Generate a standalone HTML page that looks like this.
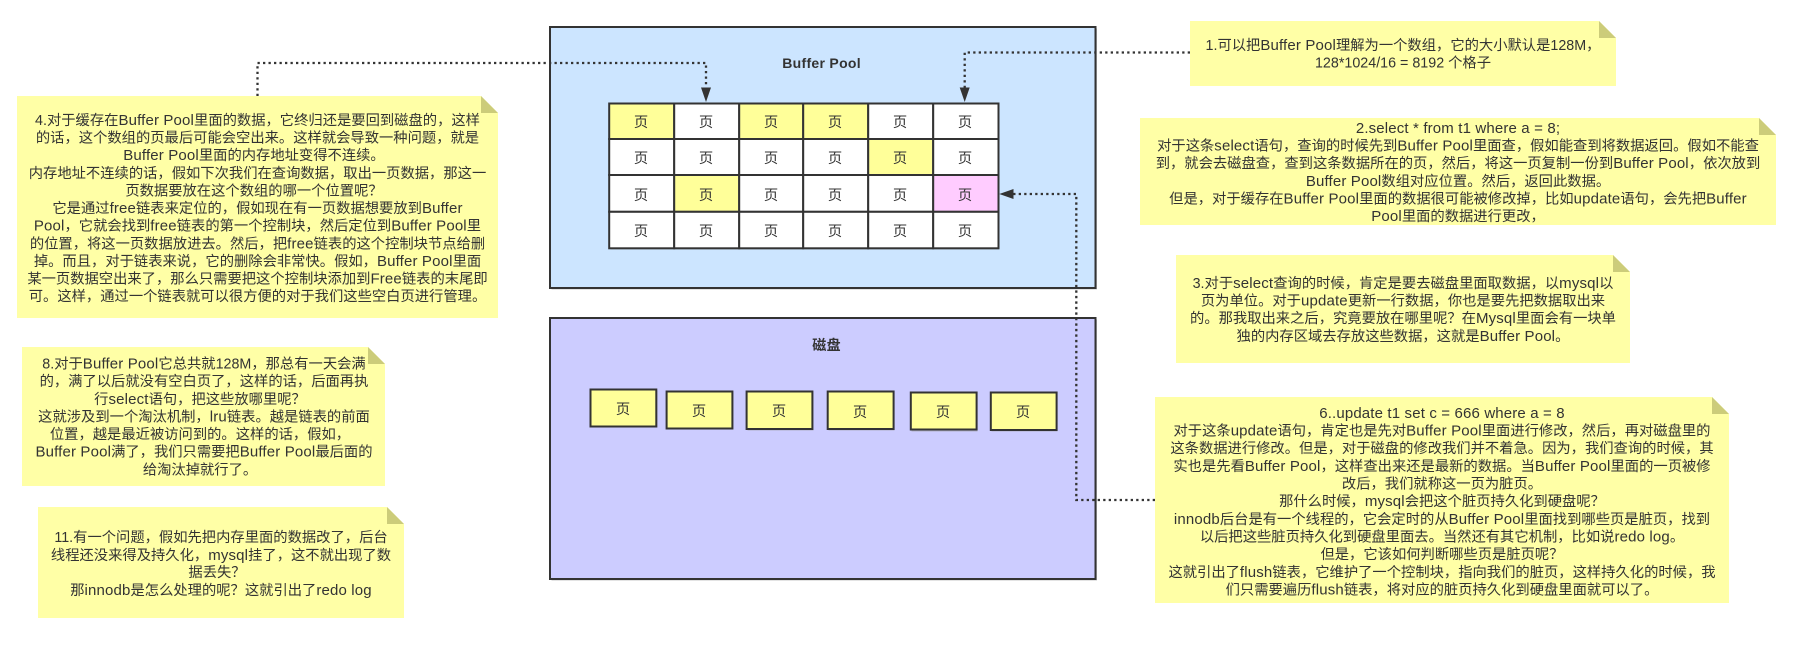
<!DOCTYPE html>
<html lang="zh"><head><meta charset="utf-8"><title>Buffer Pool</title>
<style>
html,body{margin:0;padding:0;background:#fff;width:1793px;height:657px;overflow:hidden}
svg{display:block}
text{font-family:"Liberation Sans","Noto Sans CJK SC",sans-serif;font-size:14.3px;fill:#333;text-anchor:middle;white-space:pre}
tspan.l{font-size:15px;letter-spacing:.15px}
.t{font-weight:bold;font-size:14px;letter-spacing:.3px}
.n{fill:#ffffa6}.f{fill:#cccc7a}
.c{stroke:#333;stroke-width:2;fill:#fff}
.y{fill:#ffff99}.p{fill:#ffccff}
.s{fill:#999;opacity:.55}
.d{fill:none;stroke:#333;stroke-width:2.3;stroke-dasharray:2.3 3.2}
</style></head><body>
<svg width="1793" height="657" viewBox="0 0 1793 657" xmlns="http://www.w3.org/2000/svg">
<!-- containers -->
<rect class="s" x="551.5" y="28.5" width="545.5" height="261"/>
<rect x="550" y="27" width="545.5" height="261" fill="#cce5ff" stroke="#333" stroke-width="2"/>
<text class="t" x="821.6" y="68">Buffer Pool</text>
<rect class="s" x="551.5" y="319.5" width="545.5" height="261"/>
<rect x="550" y="318" width="545.5" height="261" fill="#ccccff" stroke="#333" stroke-width="2"/>
<text class="t" x="826.6" y="350">磁盘</text>
<!-- grid -->
<rect class="s" x="610.5" y="104.5" width="389" height="145"/>
<g>
<rect class="c y" x="609.2" y="103.5" width="65" height="35.5"/><rect class="c" x="674.2" y="103.5" width="65" height="35.5"/><rect class="c y" x="739.2" y="103.5" width="64" height="35.5"/><rect class="c y" x="803.2" y="103.5" width="65" height="35.5"/><rect class="c" x="868.2" y="103.5" width="65" height="35.5"/><rect class="c" x="933.2" y="103.5" width="65.3" height="35.5"/>
<rect class="c" x="609.2" y="139" width="65" height="36"/><rect class="c" x="674.2" y="139" width="65" height="36"/><rect class="c" x="739.2" y="139" width="64" height="36"/><rect class="c" x="803.2" y="139" width="65" height="36"/><rect class="c y" x="868.2" y="139" width="65" height="36"/><rect class="c" x="933.2" y="139" width="65.3" height="36"/>
<rect class="c" x="609.2" y="175" width="65" height="36.8"/><rect class="c y" x="674.2" y="175" width="65" height="36.8"/><rect class="c" x="739.2" y="175" width="64" height="36.8"/><rect class="c" x="803.2" y="175" width="65" height="36.8"/><rect class="c" x="868.2" y="175" width="65" height="36.8"/><rect class="c p" x="933.2" y="175" width="65.3" height="36.8"/>
<rect class="c" x="609.2" y="211.8" width="65" height="36.5"/><rect class="c" x="674.2" y="211.8" width="65" height="36.5"/><rect class="c" x="739.2" y="211.8" width="64" height="36.5"/><rect class="c" x="803.2" y="211.8" width="65" height="36.5"/><rect class="c" x="868.2" y="211.8" width="65" height="36.5"/><rect class="c" x="933.2" y="211.8" width="65.3" height="36.5"/>
</g>
<g>
<text x="641" y="127">页</text><text x="706" y="127">页</text><text x="771" y="127">页</text><text x="835" y="127">页</text><text x="900" y="127">页</text><text x="965" y="127">页</text>
<text x="641" y="163">页</text><text x="706" y="163">页</text><text x="771" y="163">页</text><text x="835" y="163">页</text><text x="900" y="163">页</text><text x="965" y="163">页</text>
<text x="641" y="200">页</text><text x="706" y="200">页</text><text x="771" y="200">页</text><text x="835" y="200">页</text><text x="900" y="200">页</text><text x="965" y="200">页</text>
<text x="641" y="236">页</text><text x="706" y="236">页</text><text x="771" y="236">页</text><text x="835" y="236">页</text><text x="900" y="236">页</text><text x="965" y="236">页</text>
</g>
<!-- disk pages -->
<g>
<rect class="s" x="591.5" y="390.5" width="66" height="37"/><rect class="c y" x="590.5" y="389.5" width="65.8" height="37"/><text x="623" y="414">页</text>
<rect class="s" x="667.5" y="392.5" width="66" height="37"/><rect class="c y" x="666.6" y="391.5" width="65.8" height="37"/><text x="699" y="416">页</text>
<rect class="s" x="747.5" y="392.5" width="66" height="38"/><rect class="c y" x="746.6" y="391.5" width="65.8" height="37.5"/><text x="779" y="416">页</text>
<rect class="s" x="828.5" y="392.5" width="66" height="38"/><rect class="c y" x="827.7" y="391.5" width="65.9" height="37.5"/><text x="860" y="417">页</text>
<rect class="s" x="911.5" y="393.5" width="66" height="38"/><rect class="c y" x="910.8" y="392.5" width="65.8" height="37"/><text x="943" y="417">页</text>
<rect class="s" x="991.5" y="393.5" width="66" height="38"/><rect class="c y" x="990.8" y="392.5" width="65.8" height="37.5"/><text x="1023" y="417">页</text>
</g>
<!-- connectors -->
<path class="d" d="M257.5 96V63H706V88"/>
<polygon points="701,87.5 711,87.5 706,102" fill="#333"/>
<path class="d" d="M1190 52.5H964.7V88"/>
<polygon points="959.7,87.5 969.7,87.5 964.7,102" fill="#333"/>
<path class="d" d="M1155 500H1076.3V194H1013"/>
<polygon points="1013.5,189 1013.5,199 999.3,194" fill="#333"/>
<!-- note 1 -->
<polygon class="n" points="1190,21 1599,21 1616,38 1616,86 1190,86"/><polygon class="f" points="1599,21 1616,38 1599,38"/>
<g>
<text x="1403" y="50">1.可以把<tspan class="l">Buffer Pool</tspan>理解为一个数组，它的大小默认是128M，</text>
<text x="1403" y="67.5">128*1024/16 = 8192 个格子</text>
</g>
<!-- note 2 -->
<polygon class="n" points="1140,118 1759,118 1776,135 1776,225 1140,225"/><polygon class="f" points="1759,118 1776,135 1759,135"/>
<g>
<text x="1458" y="133"><tspan class="l">2.select * from t1 where a = 8;</tspan></text>
<text x="1458" y="150.5">对于这条<tspan class="l">select</tspan>语句，查询的时候先到<tspan class="l">Buffer Pool</tspan>里面查，假如能查到将数据返回。假如不能查</text>
<text x="1458" y="168">到，就会去磁盘查，查到这条数据所在的页，然后，将这一页复制一份到<tspan class="l">Buffer Pool</tspan>，依次放到</text>
<text x="1458" y="186"><tspan class="l">Buffer Pool</tspan>数组对应位置。然后，返回此数据。</text>
<text x="1458" y="203.5">但是，对于缓存在<tspan class="l">Buffer Pool</tspan>里面的数据很可能被修改掉，比如<tspan class="l">update</tspan>语句，会先把<tspan class="l">Buffer</tspan></text>
<text x="1458" y="221"><tspan class="l">Pool</tspan>里面的数据进行更改，</text>
</g>
<!-- note 3 -->
<polygon class="n" points="1176,255 1613,255 1630,272 1630,363 1176,363"/><polygon class="f" points="1613,255 1630,272 1613,272"/>
<g>
<text x="1403" y="288">3.对于<tspan class="l">select</tspan>查询的时候，肯定是要去磁盘里面取数据，以<tspan class="l">mysql</tspan>以</text>
<text x="1403" y="305.5">页为单位。对于<tspan class="l">update</tspan>更新一行数据，你也是要先把数据取出来</text>
<text x="1403" y="323">的。那我取出来之后，究竟要放在哪里呢？在<tspan class="l">Mysql</tspan>里面会有一块单</text>
<text x="1403" y="341">独的内存区域去存放这些数据，这就是<tspan class="l">Buffer Pool</tspan>。</text>
</g>
<!-- note 6 -->
<polygon class="n" points="1155,397 1712,397 1729,414 1729,603 1155,603"/><polygon class="f" points="1712,397 1729,414 1712,414"/>
<g>
<text x="1442" y="418"><tspan class="l">6..update t1 set c = 666 where a = 8</tspan></text>
<text x="1442" y="435.5">对于这条<tspan class="l">update</tspan>语句，肯定也是先对<tspan class="l">Buffer Pool</tspan>里面进行修改，然后，再对磁盘里的</text>
<text x="1442" y="453">这条数据进行修改。但是，对于磁盘的修改我们并不着急。因为，我们查询的时候，其</text>
<text x="1442" y="471">实也是先看<tspan class="l">Buffer Pool</tspan>，这样查出来还是最新的数据。当<tspan class="l">Buffer Pool</tspan>里面的一页被修</text>
<text x="1442" y="488.5">改后，我们就称这一页为脏页。</text>
<text x="1442" y="506">那什么时候，<tspan class="l">mysql</tspan>会把这个脏页持久化到硬盘呢？</text>
<text x="1442" y="524"><tspan class="l">innodb</tspan>后台是有一个线程的，它会定时的从<tspan class="l">Buffer Pool</tspan>里面找到哪些页是脏页，找到</text>
<text x="1442" y="541.5">以后把这些脏页持久化到硬盘里面去。当然还有其它机制，比如说<tspan class="l">redo log</tspan>。</text>
<text x="1442" y="559">但是，它该如何判断哪些页是脏页呢？</text>
<text x="1442" y="577">这就引出了<tspan class="l">flush</tspan>链表，它维护了一个控制块，指向我们的脏页，这样持久化的时候，我</text>
<text x="1442" y="594.5">们只需要遍历<tspan class="l">flush</tspan>链表，将对应的脏页持久化到硬盘里面就可以了。</text>
</g>
<!-- note 4 -->
<polygon class="n" points="17,96 481,96 498,113 498,318 17,318"/><polygon class="f" points="481,96 498,113 481,113"/>
<g>
<text x="257.5" y="125">4.对于缓存在<tspan class="l">Buffer Pool</tspan>里面的数据，它终归还是要回到磁盘的，这样</text>
<text x="257.5" y="142.5">的话，这个数组的页最后可能会空出来。这样就会导致一种问题，就是</text>
<text x="254" y="160"><tspan class="l">Buffer Pool</tspan>里面的内存地址变得不连续。</text>
<text x="257.5" y="178">内存地址不连续的话，假如下次我们在查询数据，取出一页数据，那这一</text>
<text x="254" y="195.5">页数据要放在这个数组的哪一个位置呢？</text>
<text x="257.5" y="213">它是通过<tspan class="l">free</tspan>链表来定位的，假如现在有一页数据想要放到<tspan class="l">Buffer</tspan></text>
<text x="257.5" y="230.5"><tspan class="l">Pool</tspan>，它就会找到<tspan class="l">free</tspan>链表的第一个控制块，然后定位到<tspan class="l">Buffer Pool</tspan>里</text>
<text x="257.5" y="248.5">的位置，将这一页数据放进去。然后，把<tspan class="l">free</tspan>链表的这个控制块节点给删</text>
<text x="257.5" y="266">掉。而且，对于链表来说，它的删除会非常快。假如，<tspan class="l">Buffer Pool</tspan>里面</text>
<text x="257.5" y="283.5">某一页数据空出来了，那么只需要把这个控制块添加到<tspan class="l">Free</tspan>链表的末尾即</text>
<text x="257.5" y="301">可。这样，通过一个链表就可以很方便的对于我们这些空白页进行管理。</text>
</g>
<!-- note 8 -->
<polygon class="n" points="22,347 368,347 385,364 385,486 22,486"/><polygon class="f" points="368,347 385,364 368,364"/>
<g>
<text x="204" y="368.5">8.对于<tspan class="l">Buffer Pool</tspan>它总共就128M，那总有一天会满</text>
<text x="204" y="386">的，满了以后就没有空白页了，这样的话，后面再执</text>
<text x="200" y="404">行<tspan class="l">select</tspan>语句，把这些放哪里呢？</text>
<text x="204" y="421.5">这就涉及到一个淘汰机制，<tspan class="l">lru</tspan>链表。越是链表的前面</text>
<text x="200" y="439">位置，越是最近被访问到的。这样的话，假如，</text>
<text x="204" y="456.5"><tspan class="l">Buffer Pool</tspan>满了，我们只需要把<tspan class="l">Buffer Pool</tspan>最后面的</text>
<text x="200" y="474.5">给淘汰掉就行了。</text>
</g>
<!-- note 11 -->
<polygon class="n" points="38,507 387,507 404,524 404,618 38,618"/><polygon class="f" points="387,507 404,524 387,524"/>
<g>
<text x="221" y="542">11.有一个问题，假如先把内存里面的数据改了，后台</text>
<text x="221" y="560">线程还没来得及持久化，<tspan class="l">mysql</tspan>挂了，这不就出现了数</text>
<text x="217" y="577">据丢失？</text>
<text x="221" y="595">那<tspan class="l">innodb</tspan>是怎么处理的呢？这就引出了<tspan class="l">redo log</tspan></text>
</g>
</svg>
</body></html>
